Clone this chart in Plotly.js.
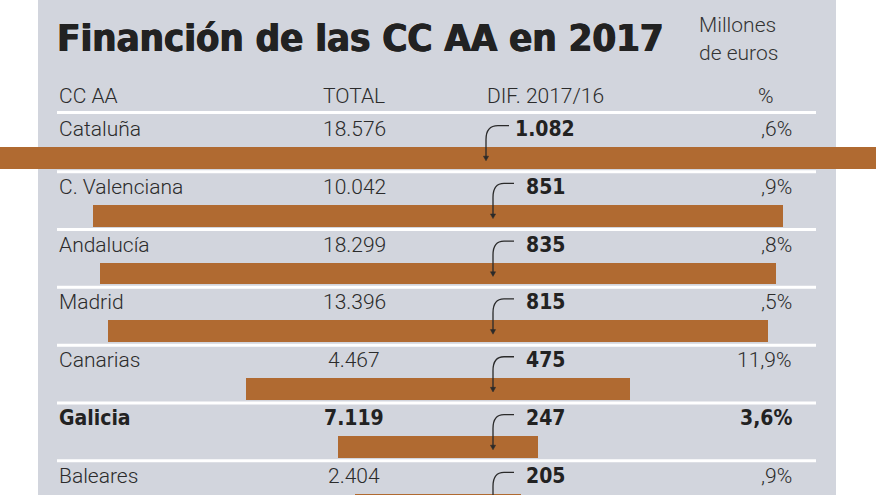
<!DOCTYPE html>
<html>
<head>
<meta charset="utf-8">
<script src="https://cdn.plot.ly/plotly-3.0.1.min.js"></script>
<style>html,body{margin:0;padding:0;background:#fff;}#chart{width:880px;height:495px;}</style>
</head>
<body>
<div id="chart"></div>
<script>
// ---- data ----
const regions = ["Cataluña", "C. Valenciana", "Andalucía", "Madrid", "Canarias", "Galicia", "Baleares"];
const totals = ["18.576", "10.042", "18.299", "13.396", "4.467", "7.119", "2.404"];
const dif = [1082, 851, 835, 815, 475, 247, 205];
const difLabels = ["1.082", "851", "835", "815", "475", "247", "205"];
const pctLabels = [",6%", ",9%", ",8%", ",5%", "11,9%", "3,6%", ",9%"];
const highlighted = "Galicia";
const headers = ["CC AA", "TOTAL", "DIF. 2017/16", "%"];
const titleText = "Financión de las CC AA en 2017";
const unitsText = ["Millones", "de euros"];

// ---- styling / layout helpers ----
const W = 880, H = 495;
const px = p => p / W;          // horizontal pixel -> paper
const py = p => 1 - p / H;      // vertical pixel -> paper
const barColor = "#b06a31";
const panel = "#d2d5dd";
const txt = "#2b2b2b";
const lightFont = "Roboto";
const boldFont = "DejaVu Sans Condensed";
const rowIdx = regions.map((_, i) => i);

const bars = {
  type: "bar",
  orientation: "h",
  y: rowIdx.map(i => i + 0.5),
  x: dif,
  base: dif.map(d => -d / 2),
  width: 0.38,
  marker: {color: barColor, line: {width: 0}},
  hoverinfo: "skip"
};

const annotations = [];
function ann(text, x, y, opts) {
  annotations.push(Object.assign({
    text: text, x: x, y: y, xref: "paper", yref: "y", showarrow: false,
    xanchor: "left", yanchor: "middle",
    font: {family: lightFont, size: 21, color: txt, weight: 300}
  }, opts || {}));
}
// title & units
ann(titleText, px(55), py(38), {yref: "paper",
  font: {family: boldFont, size: 38, color: "#222", weight: 700, shadow: "0.8px 0 0 #222, -0.4px 0 0 #222"}});
ann(unitsText[0], px(697), py(25), {yref: "paper", font: {family: lightFont, size: 21, color: "#333", weight: 300}});
ann(unitsText[1], px(697), py(53), {yref: "paper", font: {family: lightFont, size: 21, color: "#333", weight: 300}});
// headers
ann(headers[0], px(57), py(96), {yref: "paper"});
ann(headers[1], px(354), py(96), {yref: "paper", xanchor: "center"});
ann(headers[2], px(545), py(96), {yref: "paper", xanchor: "center"});
ann(headers[3], px(766), py(96), {yref: "paper", xanchor: "center"});

// rows
regions.forEach((r, i) => {
  const hl = r === highlighted;
  const f = hl ? {family: boldFont, size: 21, color: "#222", weight: 700}
               : {family: lightFont, size: 21, color: txt, weight: 300};
  ann(r, px(57), i, {font: f});
  ann(totals[i], px(354), i, {xanchor: "center", font: f});
  ann(difLabels[i], px(545), i, {xanchor: "center", font: {family: boldFont, size: 21, color: "#222", weight: 700}});
  ann(pctLabels[i], px(794), i, {xanchor: "right", font: f});
});

// shapes: panel, separator lines, arrows
const shapes = [];
shapes.push({type: "rect", xref: "paper", yref: "paper", x0: px(38), x1: px(836), y0: 0, y1: 1,
  fillcolor: panel, line: {width: 0}, layer: "below"});
// header line
shapes.push({type: "line", xref: "paper", yref: "paper", x0: px(57), x1: px(816), y0: py(112.5), y1: py(112.5),
  line: {color: "#ffffff", width: 3}, layer: "below"});
rowIdx.forEach(i => {
  shapes.push({type: "line", xref: "paper", yref: "y", x0: px(57), x1: px(816), y0: i + 0.74, y1: i + 0.74,
    line: {color: "#ffffff", width: 3}, layer: "below"});
  const first = i === 0;
  const xs = first ? 509 : 514, xc = first ? 498 : 504, xv = first ? 486 : 493;
  const yt = i - 0.06;
  const path = `M ${px(xs)},${yt} L ${px(xc)},${yt} Q ${px(xv)},${yt} ${px(xv)},${i + 0.18} L ${px(xv)},${i + 0.5}`;
  shapes.push({type: "path", xref: "paper", yref: "y", path: path, line: {color: "#2a2a2a", width: 1.3}});
  const head = `M ${px(xv - 2.6)},${i + 0.47} L ${px(xv + 2.6)},${i + 0.47} L ${px(xv)},${i + 0.55} Z`;
  shapes.push({type: "path", xref: "paper", yref: "y", path: head, fillcolor: "#2a2a2a", line: {color: "#2a2a2a", width: 0.5}});
});

const layout = {
  width: W, height: H,
  margin: {l: 0, r: 0, t: 0, b: 0, pad: 0},
  paper_bgcolor: "#ffffff",
  plot_bgcolor: "rgba(0,0,0,0)",
  showlegend: false,
  xaxis: {range: [-438 / 0.81, 442 / 0.81], visible: false, fixedrange: true},
  yaxis: {range: [(495 - 129) / 57.8, -129 / 57.8], visible: false, fixedrange: true},
  bargap: 0,
  annotations: annotations,
  shapes: shapes
};

Plotly.newPlot("chart", [bars], layout, {displayModeBar: false, staticPlot: true});
</script>
</body>
</html>
